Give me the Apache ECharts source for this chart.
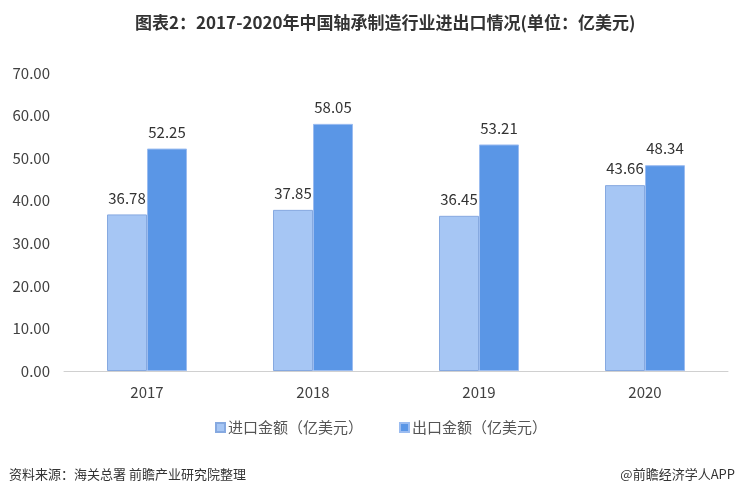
<!DOCTYPE html>
<html><head><meta charset="utf-8">
<script src="https://cdn.jsdelivr.net/npm/echarts@6/dist/echarts.min.js"></script>
<style>html,body{margin:0;padding:0;background:#fff}#c{width:745px;height:494px}</style>
</head><body><div id="c"></div>
<script>
var categories = ['2017', '2018', '2019', '2020'];
var importValues = [36.78, 37.85, 36.45, 43.66];
var exportValues = [52.25, 58.05, 53.21, 48.34];
var seriesNames = ['进口金额（亿美元）', '出口金额（亿美元）'];
var yTicks = { min: 0, max: 70, interval: 10 };

var chart = echarts.init(document.getElementById('c'));
var font = '"Microsoft YaHei","Noto Sans CJK SC","Noto Sans",sans-serif';
chart.setOption({
  animation: false,
  title: [{
    text: '图表2：2017-2020年中国轴承制造行业进出口情况(单位：亿美元)',
    left: 130, top: 9,
    textStyle: { fontSize: 17, fontWeight: 'bold', color: '#333', fontFamily: font }
  }, {
    text: '资料来源：海关总署 前瞻产业研究院整理',
    left: 4, top: 463,
    textStyle: { fontSize: 13, fontWeight: 'normal', color: '#333', fontFamily: font }
  }, {
    text: '@前瞻经济学人APP',
    right: 5, top: 463,
    textStyle: { fontSize: 13, fontWeight: 'normal', color: '#333', fontFamily: font }
  }],
  legend: {
    data: seriesNames,
    bottom: 54, left: 210,
    itemWidth: 9, itemHeight: 9, itemGap: 36,
    icon: 'rect',
    textStyle: { fontSize: 15, color: '#555', fontFamily: font, padding: [0, 0, 0, -2] }
  },
  grid: { left: 64, right: 17, top: 73, bottom: 123 },
  xAxis: {
    type: 'category', data: categories,
    axisLine: { lineStyle: { color: '#d0d0d0' } },
    axisTick: { show: false },
    axisLabel: { fontSize: 15, color: '#404040', margin: 14, fontFamily: font }
  },
  yAxis: {
    type: 'value', min: yTicks.min, max: yTicks.max, interval: yTicks.interval,
    splitLine: { show: false },
    axisLine: { show: false },
    axisTick: { show: false },
    axisLabel: { fontSize: 15, color: '#404040', margin: 14, fontFamily: font,
      formatter: function (v) { return v.toFixed(2); } }
  },
  series: [{
    name: seriesNames[0], type: 'bar', data: importValues,
    barWidth: 40, barGap: '0%',
    itemStyle: { color: '#a6c6f4', borderColor: '#86a9e0', borderWidth: 1 },
    label: { show: true, position: 'top', distance: 9, fontSize: 15, color: '#333', fontFamily: font,
      formatter: function (p) { return p.value.toFixed(2); } }
  }, {
    name: seriesNames[1], type: 'bar', data: exportValues,
    barWidth: 40,
    itemStyle: { color: '#5a96e6', borderColor: '#9bbcf0', borderWidth: 1 },
    label: { show: true, position: 'top', distance: 9, fontSize: 15, color: '#333', fontFamily: font,
      formatter: function (p) { return p.value.toFixed(2); } }
  }]
});
</script></body></html>
